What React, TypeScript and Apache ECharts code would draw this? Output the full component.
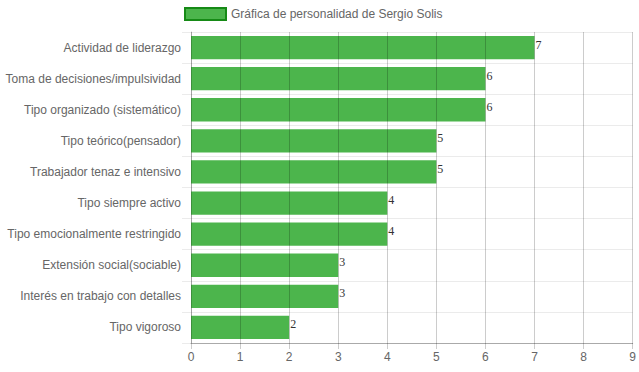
import React, { useEffect, useRef } from "react";
import * as echarts from "echarts";

const categories = [
  "Actividad de liderazgo",
  "Toma de decisiones/impulsividad",
  "Tipo organizado (sistemático)",
  "Tipo teórico(pensador)",
  "Trabajador tenaz e intensivo",
  "Tipo siempre activo",
  "Tipo emocionalmente restringido",
  "Extensión social(sociable)",
  "Interés en trabajo con detalles",
  "Tipo vigoroso",
];
const values = [7, 6, 6, 5, 5, 4, 4, 3, 3, 2];
const seriesName = "Gráfica de personalidad de Sergio Solis";

const FONT = "'Liberation Sans', Arial, Helvetica, sans-serif";

export default function App() {
  const ref = useRef<HTMLDivElement>(null);
  useEffect(() => {
    document.body.style.margin = "0";
    const chart = echarts.init(ref.current!, null, { renderer: "svg" });
    chart.setOption({
      animation: false,
      textStyle: { fontFamily: FONT },
      legend: {
        top: 2,
        left: 179,
        itemWidth: 41,
        itemHeight: 12,
        itemGap: 10,
        icon: "rect",
        textStyle: { color: "#666", fontSize: 12, fontFamily: FONT },
        data: [
          {
            name: seriesName,
            itemStyle: { color: "#4cb54c", borderColor: "#168a16", borderWidth: 2 },
          },
        ],
      },
      grid: { left: 191, right: 6, top: 32, bottom: 29, containLabel: false },
      xAxis: {
        type: "value",
        min: 0,
        max: 9,
        interval: 1,
        z: 5,
        axisLine: { show: true, lineStyle: { color: "#aaa" } },
        axisTick: { show: true, length: 6, lineStyle: { color: "rgba(0,0,0,0.2)" } },
        axisLabel: { color: "#666", fontSize: 12, margin: 8, fontFamily: FONT },
        splitLine: { show: true, lineStyle: { color: "rgba(0,0,0,0.2)", width: 1 } },
      },
      yAxis: {
        type: "category",
        inverse: true,
        data: categories,
        z: 1,
        axisLine: { show: true, lineStyle: { color: "rgba(0,0,0,0.2)" } },
        axisTick: { show: true, length: 9, lineStyle: { color: "rgba(0,0,0,0.08)" } },
        axisLabel: { color: "#666", fontSize: 12, margin: 10, fontFamily: FONT },
        splitLine: { show: true, lineStyle: { color: "rgba(0,0,0,0.08)" } },
      },
      series: [
        {
          name: seriesName,
          type: "bar",
          data: values,
          barCategoryGap: "25%",
          itemStyle: { color: "#4cb54c" },
          label: {
            show: true,
            position: "right",
            distance: 1,
            offset: [0, -3],
            color: "#333",
            fontSize: 12,
            fontFamily: "'Liberation Serif', 'Times New Roman', serif",
          },
        },
      ],
    });
    return () => chart.dispose();
  }, []);
  return <div ref={ref} style={{ width: 639, height: 372 }} />;
}
